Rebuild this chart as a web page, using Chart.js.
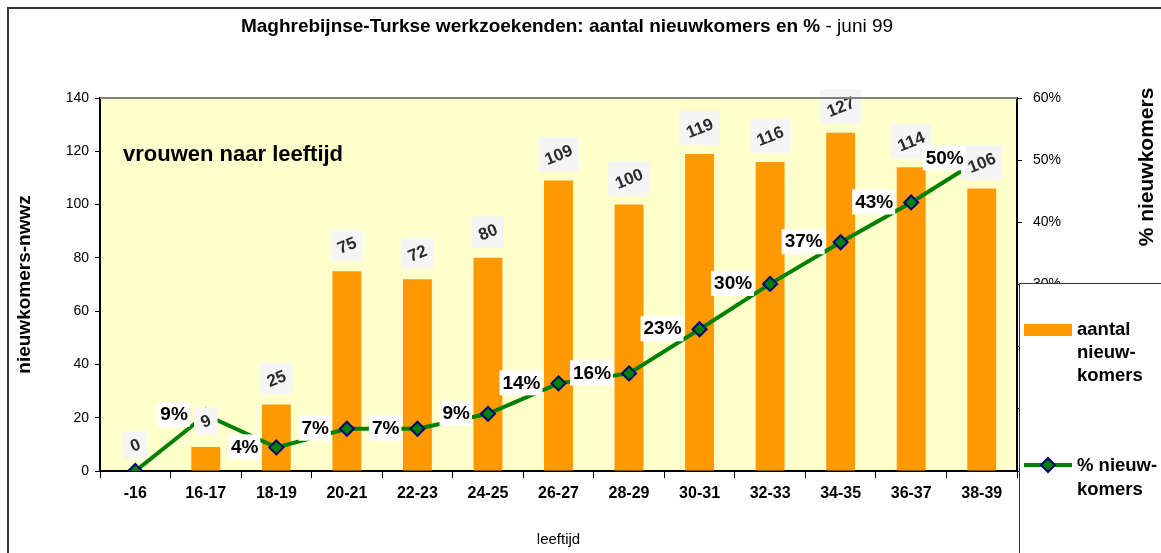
<!DOCTYPE html>
<html>
<head>
<meta charset="utf-8">
<script src="https://cdn.jsdelivr.net/npm/chart.js@4"></script>
<style>
    body { margin: 0; background: #fff; }
    #wrap { width: 1161px; height: 553px; position: relative; }
</style>
</head>
<body>
<div id="wrap"><canvas id="NIEUWKOMERS"></canvas></div>
<script>
// data
const leeftijden = ['-16', '16-17', '18-19', '20-21', '22-23', '24-25', '26-27', '28-29', '30-31', '32-33', '34-35', '36-37', '38-39'];
const aantalNieuwkomers = [0, 9, 25, 75, 72, 80, 109, 100, 119, 116, 127, 114, 106];
const procentNieuwkomers = [0, 0.09, 0.038, 0.068, 0.068, 0.092, 0.141, 0.157, 0.228, 0.301, 0.368, 0.432, 0.503];

const FONT = '"Liberation Sans", Arial, sans-serif';

function define() {

    let ctx = document.getElementById('NIEUWKOMERS');

    // background, frame, titles, legend and value labels
    let decor = {
        id: 'decor',
        beforeDraw(chart) {
            let c = chart.ctx, a = chart.chartArea;
            c.save();
            c.fillStyle = '#fff';
            c.fillRect(0, 0, chart.width, chart.height);
            c.fillStyle = '#FFFFCC';
            c.fillRect(a.left, a.top, a.right - a.left, a.bottom - a.top);
            c.restore();
        },
        afterDatasetsDraw(chart) {
            let c = chart.ctx;
            c.save();
            // bar labels, slanted, on a light box
            let bars = chart.getDatasetMeta(1).data;
            c.font = 'bold 17px ' + FONT;
            bars.forEach((bar, i) => {
                let txt = String(aantalNieuwkomers[i]);
                let w = c.measureText(txt).width, h = 13;
                let ang = -22 * Math.PI / 180;
                let bw = w * Math.cos(-ang) + h * Math.sin(-ang) + 10;
                let bh = w * Math.sin(-ang) + h * Math.cos(-ang) + 12;
                let cx = bar.x, cy = bar.y - 26;
                c.fillStyle = '#f5f5f5';
                c.fillRect(cx - bw / 2, cy - bh / 2, bw, bh);
                c.save();
                c.translate(cx, cy);
                c.rotate(ang);
                c.fillStyle = '#2b2b2b';
                c.textAlign = 'center';
                c.textBaseline = 'middle';
                c.fillText(txt, 0, 1);
                c.restore();
            });
            // percent labels to the left of the points
            let pts = chart.getDatasetMeta(0).data;
            c.font = 'bold 19px ' + FONT;
            c.textBaseline = 'middle';
            pts.forEach((p, i) => {
                if (!procentNieuwkomers[i]) return;
                let txt = Math.round(procentNieuwkomers[i] * 100) + '%';
                let w = c.measureText(txt).width;
                let right = p.x - 18;
                c.fillStyle = '#fff';
                c.fillRect(right - w - 3, p.y - 13, w + 5, 25);
                c.fillStyle = '#000';
                c.textAlign = 'right';
                c.fillText(txt, right, p.y);
            });
            c.restore();
        },
        afterDraw(chart) {
            let c = chart.ctx, a = chart.chartArea;
            c.save();
            // top edge of the plot
            c.strokeStyle = '#808080';
            c.lineWidth = 2;
            c.beginPath();
            c.moveTo(a.left, a.top);
            c.lineTo(a.right, a.top);
            c.stroke();

            // outer frame
            c.strokeStyle = '#333';
            c.lineWidth = 2;
            c.beginPath();
            c.moveTo(8, chart.height);
            c.lineTo(8, 8);
            c.lineTo(chart.width, 8);
            c.stroke();

            // title, bold part + normal part
            let t1 = 'Maghrebijnse-Turkse werkzoekenden: aantal nieuwkomers en %';
            let t2 = ' - juni 99';
            c.font = 'bold 19px ' + FONT;
            let w1 = c.measureText(t1).width;
            c.font = '19px ' + FONT;
            let w2 = c.measureText(t2).width;
            let x0 = 567 - (w1 + w2) / 2;
            c.textBaseline = 'middle';
            c.textAlign = 'left';
            c.fillStyle = '#000';
            c.font = 'bold 19px ' + FONT;
            c.fillText(t1, x0, 27);
            c.font = '19px ' + FONT;
            c.fillText(t2, x0 + w1, 27);

            // annotation in the plot
            c.font = 'bold 22px ' + FONT;
            c.fillText('vrouwen naar leeftijd', 123, 155);

            // right axis title, reading upwards
            c.save();
            c.translate(1147, 167);
            c.rotate(-Math.PI / 2);
            c.textAlign = 'center';
            c.font = 'bold 21px ' + FONT;
            c.fillText('% nieuwkomers', 0, 0);
            c.restore();

            // legend box
            c.fillStyle = '#fff';
            c.fillRect(1020, 284, chart.width - 1020, chart.height - 284);
            c.strokeStyle = '#333';
            c.lineWidth = 1;
            c.beginPath();
            c.moveTo(1019.5, chart.height);
            c.lineTo(1019.5, 283.5);
            c.lineTo(chart.width, 283.5);
            c.stroke();

            c.fillStyle = '#FF9900';
            c.fillRect(1024, 324, 48, 12);
            c.strokeStyle = '#008000';
            c.lineWidth = 4;
            c.beginPath();
            c.moveTo(1024, 465);
            c.lineTo(1072, 465);
            c.stroke();
            c.beginPath();
            c.moveTo(1048, 458);
            c.lineTo(1055, 465);
            c.lineTo(1048, 472);
            c.lineTo(1041, 465);
            c.closePath();
            c.fillStyle = '#008000';
            c.fill();
            c.strokeStyle = '#000080';
            c.lineWidth = 2;
            c.stroke();

            c.fillStyle = '#000';
            c.font = 'bold 18.5px ' + FONT;
            c.textAlign = 'left';
            c.fillText('aantal', 1077, 330);
            c.fillText('nieuw-', 1077, 353);
            c.fillText('komers', 1077, 376);
            c.fillText('% nieuw-', 1077, 466);
            c.fillText('komers', 1077, 490);
            c.restore();
        }
    };

    let chart = new Chart(ctx, {
        type: 'bar',
        data: {
            labels: leeftijden,
            datasets: [{
                type: 'line',
                label: '% nieuwkomers',
                data: procentNieuwkomers,
                yAxisID: 'y2',
                borderColor: '#008000',
                borderWidth: 4,
                tension: 0,
                pointStyle: 'rectRot',
                pointRadius: 7,
                pointBackgroundColor: '#008000',
                pointBorderColor: '#000080',
                pointBorderWidth: 2,
                order: 1
            }, {
                label: 'aantal nieuwkomers',
                data: aantalNieuwkomers,
                yAxisID: 'y',
                backgroundColor: '#FF9900',
                barPercentage: 0.41,
                categoryPercentage: 1,
                order: 2
            }]
        },
        options: {
            responsive: true,
            maintainAspectRatio: false,
            animation: false,
            layout: {
                padding: { top: 98, left: 0, right: 0, bottom: 0 }
            },
            scales: {
                x: {
                    grid: { drawOnChartArea: false, drawTicks: true, tickLength: 7, color: '#000', offset: true },
                    border: { display: true, color: '#000', width: 2 },
                    ticks: { color: '#000', font: { family: FONT, size: 16, weight: 'bold' }, padding: 6, maxRotation: 0 },
                    title: { display: true, text: 'leeftijd', color: '#000', font: { family: FONT, size: 15 }, padding: { top: 4, bottom: 4 } },
                    afterFit: s => { s.height = 82; }
                },
                y: {
                    position: 'left',
                    min: 0,
                    max: 140,
                    ticks: { stepSize: 20, color: '#000', font: { family: FONT, size: 14 }, padding: 6 },
                    grid: { drawOnChartArea: false, tickLength: 5, color: '#000' },
                    border: { display: true, color: '#000', width: 2 },
                    title: { display: true, text: 'nieuwkomers-nwwz', color: '#000', font: { family: FONT, size: 19, weight: 'bold' }, padding: { top: 13, bottom: 4 } },
                    afterFit: s => { s.width = 100; }
                },
                y2: {
                    position: 'right',
                    min: 0,
                    max: 0.6,
                    ticks: { stepSize: 0.1, color: '#000', font: { family: FONT, size: 14 }, padding: 11, callback: v => Math.round(v * 100) + '%' },
                    grid: { drawOnChartArea: false, tickLength: 5, color: '#000' },
                    border: { display: true, color: '#000', width: 2 },
                    afterFit: s => { s.width = 144; }
                }
            },
            plugins: {
                legend: { display: false },
                tooltip: { enabled: false }
            }
        },
        plugins: [decor]
    });

    return chart
}

define();
</script>
</body>
</html>
